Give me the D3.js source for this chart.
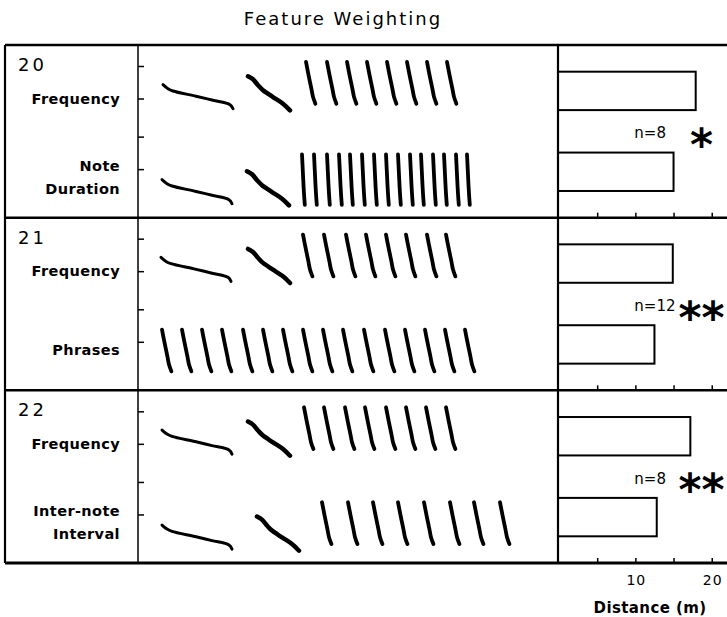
<!DOCTYPE html>
<html>
<head>
<meta charset="utf-8">
<script src="https://cdn.jsdelivr.net/npm/d3@7"></script>
<style>
  body { margin: 0; background: #fff; }
  svg { display: block; font-family: 'DejaVu Sans', sans-serif; }
</style>
</head>
<body>
<div id="chart"></div>
<script>
// songs and the feature that was changed in the second version of each
const songIds = ['20', '21', '22'];
const featureLabels = [['Note', 'Duration'], ['Phrases'], ['Inter-note', 'Interval']];
const sampleSizes = [8, 12, 8];
const significance = ['*', '**', '**'];

// distance (m) for the frequency version and for the feature version
const freqDistance = [17.9, 14.9, 17.2];
const featureDistance = [15.0, 12.5, 12.8];

const distanceTicks = [5, 10, 15, 20];
const distanceLabels = [10, 20];

// note outlines on the sonogram: [ms after note onset, kHz]
const whistleShape = [[0, 4.85], [25, 4.6], [50, 4.46], [165, 4.14], [250, 3.89], [335, 3.62], [350, 3.37]];
const slurShape = [[0, 5.37], [25, 5.18], [50, 4.82], [75, 4.51], [125, 4.09], [175, 3.68], [210, 3.27]];
const trillShape = [[0, 6.25], [13, 5.43], [27, 4.6], [35, 4.1], [47, 3.68]];
const shortTrillShape = [[0, 6.4], [4, 5.4], [8, 4.4], [11, 3.8], [14, 3.3]];

// onsets in ms, one entry per sonogram (frequency version, then feature version)
const whistleOnsets = [5, 0, -5, null, 0, 0];
const slurOnsets = [430, 425, 430, null, 430, 475];
const trillOnsets = [
  [720, 825, 925, 1025, 1125, 1225, 1325, 1425],
  [700, 760, 825, 885, 940, 1000, 1060, 1120, 1180, 1240, 1295, 1355, 1410, 1470, 1525],
  [705, 810, 920, 1020, 1120, 1220, 1325, 1420],
  [0, 100, 200, 300, 405, 505, 605, 705, 805, 905, 1010, 1115, 1215, 1315, 1415, 1515],
  [710, 810, 915, 1015, 1120, 1220, 1320, 1420],
  [800, 930, 1055, 1180, 1310, 1440, 1560, 1690]
];
const shortTrills = [false, true, false, false, false, false];

const W = 727, H = 617;
const frameLeft = 5, frameTop = 45, frameBottom = 563;
const colLabel = 138, colBars = 558;

const svg = d3.select('#chart').append('svg')
  .attr('width', W)
  .attr('height', H);

const rows = d3.scaleBand().domain(songIds).range([frameTop, frameBottom]);
const rowH = rows.bandwidth();

// time on the sonograms and distance on the bars
const x = d3.scaleLinear().domain([0, 2000]).range([162, 562]);
const xDist = d3.scaleLinear().domain([0, 22]).range([559, 727]);

// each row holds two sonograms, the second one 95px lower
function freqScale(rowTop, part){
  const y6 = rowTop + 21 + part * 95;
  return d3.scaleLinear().domain([4, 6]).range([y6 + 32.5, y6]);
}

svg.append('text')
  .attr('x', 343)
  .attr('y', 25)
  .attr('text-anchor', 'middle')
  .attr('font-size', 18)
  .attr('letter-spacing', 2)
  .text('Feature Weighting');

songIds.forEach((id, s) => {
  const rowTop = rows(id);
  const g = svg.append('g');

  // sonograms
  [0, 1].forEach(part => {
    const t = s * 2 + part;
    const y = freqScale(rowTop, part);
    const notes = [];
    if(whistleOnsets[t] !== null) notes.push({onset: whistleOnsets[t], shape: whistleShape, w: 3});
    if(slurOnsets[t] !== null) notes.push({onset: slurOnsets[t], shape: slurShape, w: 4.5});
    trillOnsets[t].forEach(o => notes.push({
      onset: o,
      shape: shortTrills[t] ? shortTrillShape : trillShape,
      w: 3.8
    }));

    g.append('g').selectAll('path')
      .data(notes)
      .join('path')
      .attr('d', d => d3.line()
        .x(p => x(d.onset + p[0]))
        .y(p => y(p[1]))
        .curve(d3.curveCatmullRom)(d.shape))
      .attr('fill', 'none')
      .attr('stroke', '#000')
      .attr('stroke-width', d => d.w)
      .attr('stroke-linecap', 'round');

    // small kHz ticks on the left of the sonogram
    const ticks = g.append('g')
      .attr('transform', `translate(${colLabel},0)`)
      .call(d3.axisRight(y).tickValues(part ? [5.5, 7.5] : [4, 6]).tickSize(6).tickFormat(''));
    ticks.select('.domain').remove();
    ticks.selectAll('line').attr('stroke-width', 1.5);
  });

  // labels
  g.append('text')
    .attr('x', 18)
    .attr('y', rowTop + 26)
    .attr('font-size', 18)
    .attr('letter-spacing', 3)
    .text(id);

  const yFreq = freqScale(rowTop, 0);
  g.append('text')
    .attr('x', 120)
    .attr('y', yFreq(4))
    .attr('dy', '0.36em')
    .attr('text-anchor', 'end')
    .attr('font-size', 14.5)
    .attr('font-weight', 'bold')
    .attr('letter-spacing', 0.4)
    .text('Frequency');

  const lines = featureLabels[s];
  const yFeat = freqScale(rowTop, 1)(5.5) + 8;
  g.append('g').selectAll('text')
    .data(lines)
    .join('text')
    .attr('x', 120)
    .attr('y', (d, i) => yFeat + (i - (lines.length - 1) / 2) * 23)
    .attr('dy', '0.36em')
    .attr('text-anchor', 'end')
    .attr('font-size', 14.5)
    .attr('font-weight', 'bold')
    .attr('letter-spacing', 0.4)
    .text(d => d);

  // bars
  const band = d3.scaleBand()
    .domain([0, 1])
    .range([rowTop, rowTop + rowH])
    .paddingInner(0.525)
    .paddingOuter(0.33);

  g.append('g').selectAll('rect')
    .data([freqDistance[s], featureDistance[s]])
    .join('rect')
    .attr('x', xDist(0) - 1)
    .attr('y', (d, i) => band(i))
    .attr('width', d => xDist(d) - xDist(0) + 1)
    .attr('height', band.bandwidth())
    .attr('fill', '#fff')
    .attr('stroke', '#000')
    .attr('stroke-width', 2);

  g.append('text')
    .attr('x', xDist(10) - 1)
    .attr('y', rowTop + 88)
    .attr('dy', '0.36em')
    .attr('font-size', 15)
    .text('n=' + sampleSizes[s]);

  g.append('text')
    .attr('x', 701.5)
    .attr('y', rowTop + 92 + 23)
    .attr('text-anchor', 'middle')
    .attr('font-size', 44)
    .attr('font-weight', 'bold')
    .text(significance[s]);

  // distance ticks on the bottom line of every row
  const dt = g.append('g')
    .attr('transform', `translate(0,${rowTop + rowH})`)
    .call(d3.axisTop(xDist).tickValues(distanceTicks).tickSize(5).tickFormat(''));
  dt.select('.domain').remove();
  dt.selectAll('line').attr('stroke-width', 1.5);
});

// frame
const hLines = [frameTop].concat(songIds.map(id => rows(id) + rowH));
svg.append('g').selectAll('line')
  .data(hLines)
  .join('line')
  .attr('x1', frameLeft)
  .attr('x2', W)
  .attr('y1', d => d)
  .attr('y2', d => d)
  .attr('stroke', '#000')
  .attr('stroke-width', (d, i) => i === hLines.length - 1 ? 3 : 2.5);

svg.append('g').selectAll('line')
  .data([frameLeft, colLabel, colBars])
  .join('line')
  .attr('x1', d => d)
  .attr('x2', d => d)
  .attr('y1', frameTop)
  .attr('y2', frameBottom)
  .attr('stroke', '#000')
  .attr('stroke-width', (d, i) => i === 1 ? 1.5 : 2.2);

// distance labels under the last row
svg.append('g').selectAll('text')
  .data(distanceLabels)
  .join('text')
  .attr('x', d => xDist(d) + 1)
  .attr('y', 585)
  .attr('text-anchor', 'middle')
  .attr('font-size', 14)
  .attr('letter-spacing', 1)
  .text(d => d);

svg.append('text')
  .attr('x', 650)
  .attr('y', 613)
  .attr('text-anchor', 'middle')
  .attr('font-size', 15)
  .attr('font-weight', 'bold')
  .attr('letter-spacing', 0.4)
  .text('Distance (m)');
</script>
</body>
</html>
